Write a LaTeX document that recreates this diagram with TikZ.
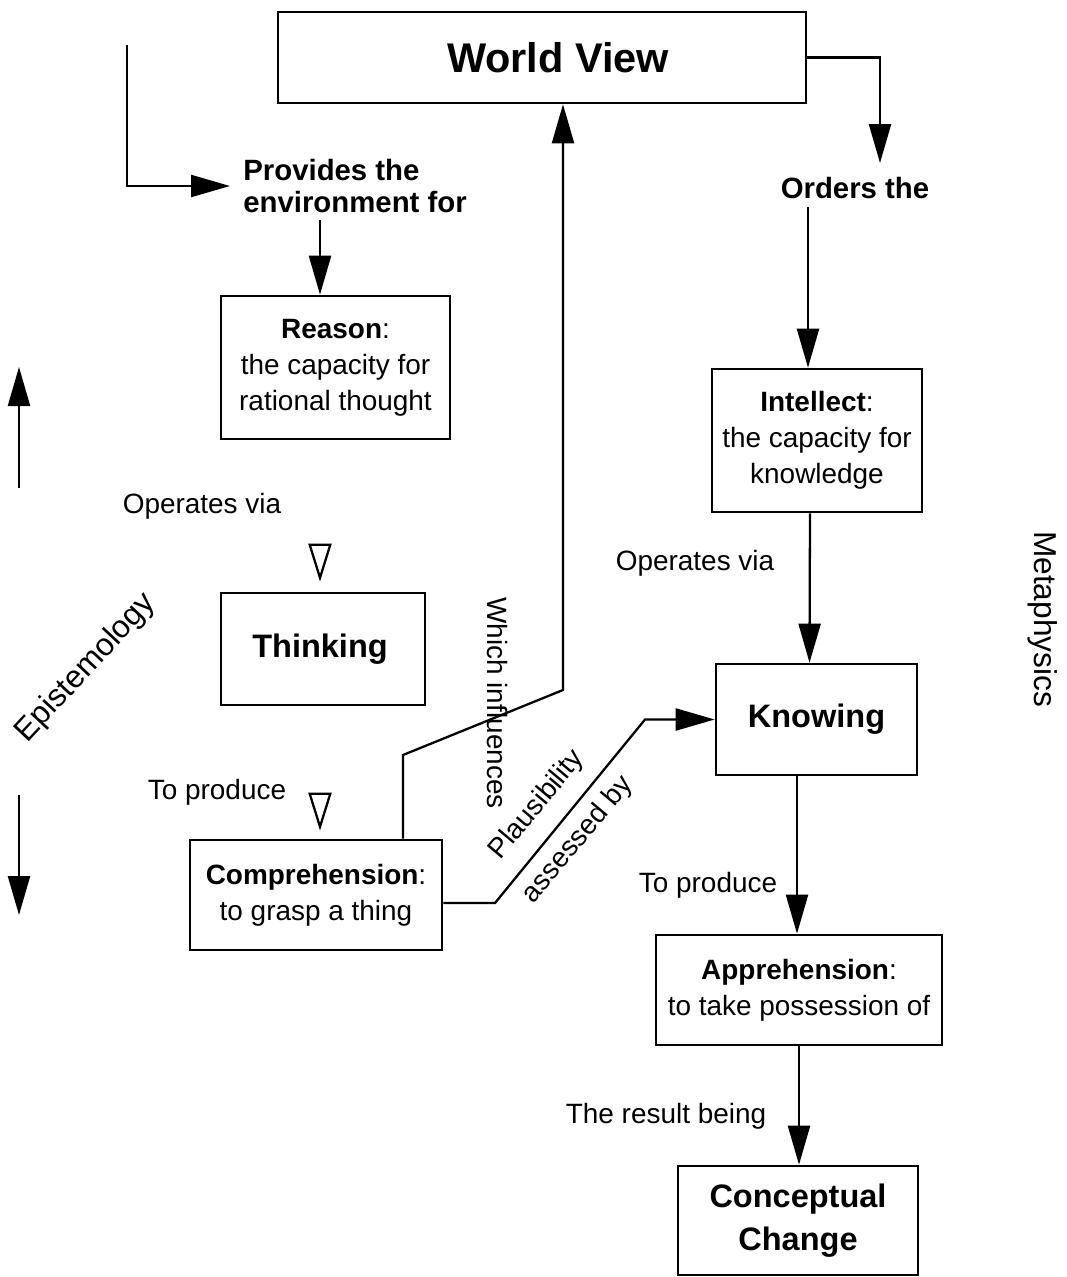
\documentclass[tikz,border=0pt]{standalone}
\usepackage{fontspec}
\setmainfont{Liberation Sans}
\usetikzlibrary{arrows.meta, calc}

\begin{document}
\begin{tikzpicture}[
  font=\fontsize{15.9}{20.5}\selectfont,
  box/.style={draw, line width=1.5pt, align=center, inner sep=2pt},
  arr/.style={line width=1.3pt, -{Triangle[length=0.78cm, width=0.44cm]}},
  hollow/.style={line width=1.3pt, -{Triangle[open, length=0.76cm, width=0.46cm]}},
  big/.style={font=\fontsize{18.5}{24.4}\selectfont\bfseries},
  link/.style={font=\fontsize{16.7}{18.7}\selectfont\bfseries},
  side/.style={font=\fontsize{18}{22}\selectfont}
]
\useasboundingbox (0,0) rectangle (21.32,-25.54);

% boxes
\node[box, minimum width=10.56cm, minimum height=1.82cm,
  font=\fontsize{23.6}{28}\selectfont\bfseries] (wv) at (10.84,-1.15) {\hspace*{0.64cm}World View};
\node[box, minimum width=4.58cm, minimum height=2.86cm] (reason) at (6.71,-7.35)
  {\textbf{Reason}:\\the capacity for\\rational thought};
\node[box, big, minimum width=4.08cm, minimum height=2.24cm] (think) at (6.46,-12.98) {Thinking\hspace*{0.12cm}};
\node[box, minimum width=5.04cm, minimum height=2.2cm] (comp) at (6.32,-17.9)
  {\textbf{Comprehension}:\\to grasp a thing};
\node[box, minimum width=4.2cm, minimum height=2.86cm] (intel) at (16.34,-8.81)
  {\textbf{Intellect}:\\the capacity for\\knowledge};
\node[box, big, minimum width=4.02cm, minimum height=2.22cm] (know) at (16.33,-14.39) {Knowing};
\node[box, minimum width=5.72cm, minimum height=2.2cm] (appre) at (15.98,-19.8)
  {\textbf{Apprehension}:\\to take possession of};
\node[box, big, minimum width=4.8cm, minimum height=2.18cm] (concept) at (15.96,-24.41)
  {Conceptual\\Change};

% labels
\node[link, align=left, anchor=west, inner sep=0pt] (prov) at (4.86,-3.72) {Provides the\\environment for};
\node[link] (orders) at (17.1,-3.76) {Orders the};
\node (opvia1) at (4.04,-10.12) {Operates via};
\node (toprod1) at (4.34,-15.84) {To produce};
\node (opvia2) at (13.9,-11.26) {Operates via};
\node (toprod2) at (14.16,-17.7) {To produce};
\node (result) at (13.32,-22.32) {The result being};
\node[rotate=-90] (infl) at (9.94,-14.06) {Which influences};
\node[rotate=50] (plaus) at (10.74,-16.1) {Plausibility};
\node[rotate=50] (assess) at (11.56,-16.8) {assessed by};
\node[side, rotate=47] (epist) at (1.72,-13.36) {Epistemology};
\node[side, rotate=-90] (meta) at (20.86,-12.38) {Metaphysics};

% free ends
\coordinate (wvleft) at (2.54,-0.9);
\coordinate (provout) at (6.4,-4.4);
\coordinate (ordtop) at (17.6,-3.26);
\coordinate (ordbot) at (16.16,-4.14);
\coordinate (bendwv) at (11.26,-13.8);
\coordinate (bendkn) at (12.9,-14.39);
\coordinate (epiA) at (0.38,-9.76);
\coordinate (epiB) at (0.38,-7.34);
\coordinate (epiC) at (0.38,-15.9);
\coordinate (epiD) at (0.38,-18.3);

% connectors
\draw[arr] (wvleft) |- ([xshift=-0.26cm]prov.west);
\draw[arr] (provout) -- (provout |- reason.north);
\draw[hollow] ($(think.north)+(-0.06,0.96)$) -- ($(think.north)+(-0.06,0.2)$);
\draw[hollow] ($(comp.north)+(0.08,0.92)$) -- ($(comp.north)+(0.08,0.16)$);
\draw[arr] ([xshift=1.74cm]comp.north) -- (8.06,-15.1) -- (bendwv) -- (bendwv |- wv.south);
\draw[arr] ([yshift=-0.16cm]comp.east) -- (9.9,-18.06) -- (bendkn) -- (know.west);
\draw[arr] (wv.east) -| (ordtop);
\draw[arr] (ordbot) -- (ordbot |- intel.north);
\draw[arr] ([xshift=-0.14cm]intel.south) -- ([xshift=-0.14cm]know.north);
\draw[arr] ([xshift=-0.39cm]know.south) -- ([xshift=-0.04cm]appre.north);
\draw[arr] (appre.south) -- (appre.south |- concept.north);
\draw[arr] (epiA) -- (epiB);
\draw[arr] (epiC) -- (epiD);
\end{tikzpicture}
\end{document}
